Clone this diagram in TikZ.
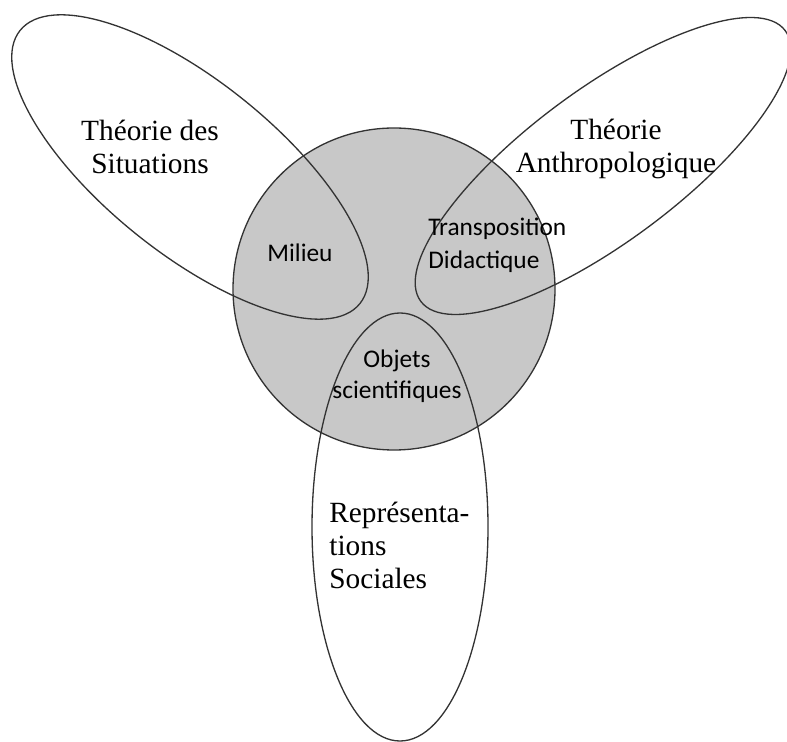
\documentclass[tikz,border=0pt]{standalone}
\usepackage{fontspec}
\setmainfont{Liberation Serif}
\newfontfamily\calibrifont{Carlito}
\usepackage{tikz}
\usepackage{xcolor}
\definecolor{circlegray}{RGB}{200,200,200}

\begin{document}
\begin{tikzpicture}[x=0.02cm,y=-0.02cm,
  theory/.style={font=\fontsize{16.7}{18.8}\selectfont, inner sep=0pt},
  concept/.style={font=\calibrifont\fontsize{14.45}{18.8}\selectfont, inner sep=0pt},
  outline/.style={draw=black!80, line width=0.75pt}]
\useasboundingbox (0,0) rectangle (787,742);
% central disc
\fill[circlegray] (394,289) circle (161);
\draw[outline] (394,289) circle (161);
% the three theories
\draw[outline, rotate around={-38.8:(190,167)}] (190,167) ellipse (218 and 86);
\draw[outline, rotate around={36.6:(603,166)}] (603,166) ellipse (227 and 76);
\draw[outline] (400,527) ellipse (88 and 214);
% labels
\node[theory, align=center] (tds) at (150,147) {Théorie des\\Situations};
\node[theory, align=center] (tad) at (616,149) {Théorie\\Anthropologique};
\node[theory, align=left, anchor=west] (rs) at (329,545) {Représenta-\\tions\\Sociales};
\node[concept, anchor=base] (milieu) at (300,262) {Milieu};
\node[concept, align=left, anchor=west] (transpo) at (428,245) {Transposition\\Didactique};
\node[concept, align=center, font=\calibrifont\fontsize{14.45}{17.6}\selectfont] (objets) at (397,376) {Objets\\scientifiques};
\end{tikzpicture}
\end{document}
